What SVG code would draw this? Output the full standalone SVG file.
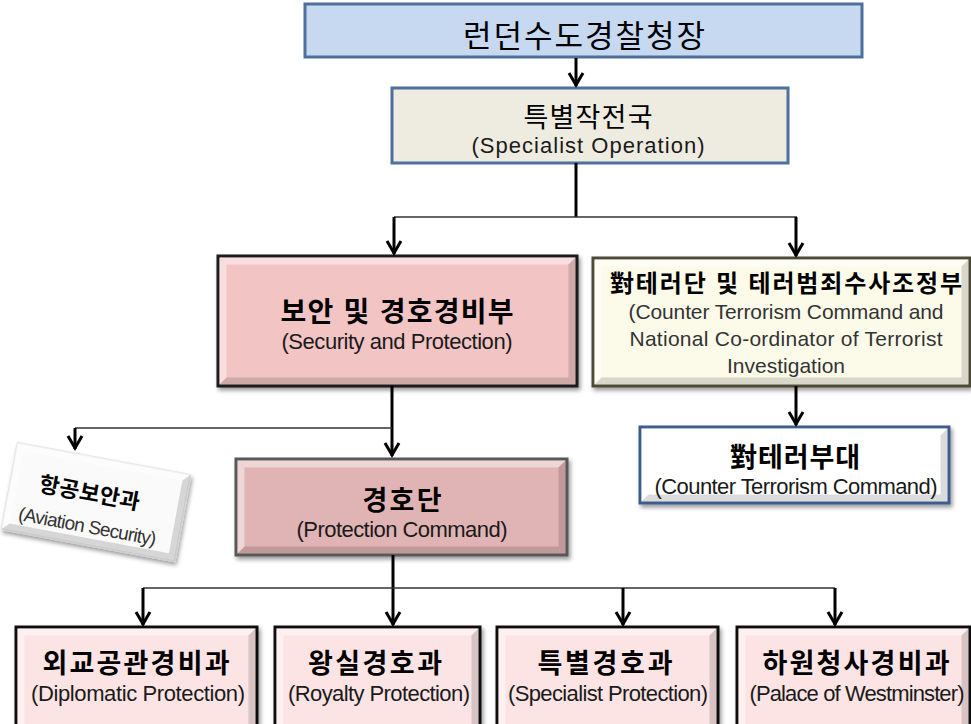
<svg xmlns="http://www.w3.org/2000/svg" width="971" height="724" viewBox="0 0 971 724">
<style>
text{font-family:"Liberation Sans","Noto Sans CJK KR",sans-serif;text-anchor:middle}
.t{font-weight:700;fill:#000}
.s{fill:#1a1a1a}
.bl{fill:#fff;opacity:.45}
.bd{fill:#000;opacity:.14}
.main{stroke:#000;stroke-width:3;fill:none}
.thin{stroke:#333;stroke-width:1.6;fill:none}
.arr{marker-end:url(#ah)}
</style>
<defs>
<marker id="ah" viewBox="-16 -10 20 20" refX="0" refY="0" markerWidth="20" markerHeight="20" markerUnits="userSpaceOnUse" orient="auto">
<path d="M-13,-7 L-1,0 L-13,7" fill="none" stroke="#000" stroke-width="3"/>
</marker>
<filter id="sh" x="-10%" y="-10%" width="130%" height="140%">
<feDropShadow dx="2" dy="3" stdDeviation="2" flood-color="#000" flood-opacity="0.4"/>
</filter>
</defs>

<g id="commissioner">
<rect x="305" y="4" width="557" height="53" fill="#c6d9f1" stroke="#4f6f9c" stroke-width="3"/>
<text x="584" y="47" font-size="31" fill="#000" textLength="242">런던수도경찰청장</text>
</g>

<g id="specialist-operation">
<rect x="392" y="88" width="396" height="75" fill="#eeece1" stroke="#4f6f9c" stroke-width="3"/>
<text x="588" y="127" font-size="27" fill="#000" textLength="129">특별작전국</text>
<text x="588" y="153" font-size="22" class="s" textLength="233">(Specialist Operation)</text>
</g>

<g id="security-protection">
<rect x="218" y="256" width="359" height="130" fill="#f2c4c4" stroke="#1a1a1a" stroke-width="3" filter="url(#sh)"/>
<path class="bl" d="M219.5 257.5h356l-7 7h-342z"/>
<path class="bl" d="M219.5 257.5l7 7v113l-7 7z"/>
<path class="bd" d="M219.5 384.5l7-7h342l7 7z"/>
<path class="bd" d="M575.5 257.5v127l-7-7v-113z"/>
<text x="397" y="322" font-size="28" class="t" textLength="233">보안 및 경호경비부</text>
<text x="397" y="348.5" font-size="22" class="s" textLength="231">(Security and Protection)</text>
</g>

<g id="counter-terrorism">
<rect x="593" y="258" width="377" height="128" fill="#fcfbea" stroke="#4d4a38" stroke-width="3" filter="url(#sh)"/>
<path class="bl" d="M594.5 259.5h374l-7 7h-360z"/>
<path class="bl" d="M594.5 259.5l7 7v111l-7 7z"/>
<path class="bd" d="M594.5 384.5l7-7h360l7 7z"/>
<path class="bd" d="M968.5 259.5v125l-7-7v-111z"/>
<text x="786" y="292" font-size="24" class="t" textLength="352">對테러단 및 테러범죄수사조정부</text>
<text x="786" y="319" font-size="21" fill="#333" textLength="315">(Counter Terrorism Command and</text>
<text x="786" y="346" font-size="21" fill="#333" textLength="313">National Co-ordinator of Terrorist</text>
<text x="786" y="373" font-size="21" fill="#333" textLength="118">Investigation</text>
</g>

<g id="counter-terrorism-command">
<rect x="640" y="427" width="309" height="76" fill="#ffffff" stroke="#3d5d8c" stroke-width="3" filter="url(#sh)"/>
<path class="bl" d="M641.5 428.5h306l-7 7h-292z"/>
<path class="bl" d="M641.5 428.5l7 7v59l-7 7z"/>
<path class="bd" d="M641.5 501.5l7-7h292l7 7z"/>
<path class="bd" d="M947.5 428.5v73l-7-7v-59z"/>
<text x="795" y="467" font-size="27" class="t" textLength="130">對테러부대</text>
<text x="796" y="493.5" font-size="22" class="s" textLength="283">(Counter Terrorism Command)</text>
</g>

<g id="aviation-security" transform="translate(96,502) rotate(10.5)">
<rect x="-88" y="-44" width="176" height="88" fill="#fafafa" stroke="#d6d6d6" stroke-width="1" filter="url(#sh)"/>
<path class="bl" d="M-88 -44h176l-7 7h-162z"/>
<path class="bl" d="M-88 -44l7 7v74l-7 7z"/>
<path class="bd" d="M-88 44l7-7h162l7 7z"/>
<path class="bd" d="M88 -44v88l-7-7v-74z"/>
<text x="-8" y="0" font-size="22" class="t" fill="#222" textLength="102">항공보안과</text>
<text x="-4" y="32" font-size="19" fill="#333" textLength="140">(Aviation Security)</text>
</g>

<g id="protection-command">
<rect x="236" y="459" width="331" height="96" fill="#e0b4b4" stroke="#595959" stroke-width="3" filter="url(#sh)"/>
<path class="bl" d="M237.5 460.5h328l-7 7h-314z"/>
<path class="bl" d="M237.5 460.5l7 7v79l-7 7z"/>
<path class="bd" d="M237.5 553.5l7-7h314l7 7z"/>
<path class="bd" d="M565.5 460.5v93l-7-7v-79z"/>
<text x="402" y="510" font-size="27" class="t" textLength="79">경호단</text>
<text x="402" y="536.5" font-size="22" class="s" textLength="211">(Protection Command)</text>
</g>

<g id="diplomatic-protection">
<rect x="16" y="627" width="241" height="104" fill="#fce4e4" stroke="#111" stroke-width="3" filter="url(#sh)"/>
<path class="bl" d="M17.5 628.5h238l-7 7h-224z"/>
<path class="bl" d="M17.5 628.5l7 7v95h-7z"/>
<path class="bd" d="M255.5 628.5v102h-7v-95z"/>
<text x="136" y="673" font-size="27" class="t" textLength="187">외교공관경비과</text>
<text x="138" y="701" font-size="22" class="s" textLength="214">(Diplomatic Protection)</text>
</g>

<g id="royalty-protection">
<rect x="275" y="627" width="205" height="104" fill="#fce4e4" stroke="#111" stroke-width="3" filter="url(#sh)"/>
<path class="bl" d="M276.5 628.5h202l-7 7h-188z"/>
<path class="bl" d="M276.5 628.5l7 7v95h-7z"/>
<path class="bd" d="M478.5 628.5v102h-7v-95z"/>
<text x="375" y="673" font-size="27" class="t" textLength="134">왕실경호과</text>
<text x="379" y="701" font-size="22" class="s" textLength="182">(Royalty Protection)</text>
</g>

<g id="specialist-protection">
<rect x="497" y="627" width="221" height="104" fill="#fce4e4" stroke="#111" stroke-width="3" filter="url(#sh)"/>
<path class="bl" d="M498.5 628.5h218l-7 7h-204z"/>
<path class="bl" d="M498.5 628.5l7 7v95h-7z"/>
<path class="bd" d="M716.5 628.5v102h-7v-95z"/>
<text x="605" y="673" font-size="27" class="t" textLength="135">특별경호과</text>
<text x="608" y="701" font-size="22" class="s" textLength="200">(Specialist Protection)</text>
</g>

<g id="palace-of-westminster">
<rect x="737" y="627" width="233" height="104" fill="#fce4e4" stroke="#111" stroke-width="3" filter="url(#sh)"/>
<path class="bl" d="M738.5 628.5h230l-7 7h-216z"/>
<path class="bl" d="M738.5 628.5l7 7v95h-7z"/>
<path class="bd" d="M968.5 628.5v102h-7v-95z"/>
<text x="856" y="673" font-size="27" class="t" textLength="187">하원청사경비과</text>
<text x="857" y="701" font-size="22" class="s" textLength="215">(Palace of Westminster)</text>
</g>

<g id="connectors">
<path class="main arr" d="M576 58V86"/>
<path class="main" d="M576 163V217"/>
<path class="thin" d="M394 217H797"/>
<path class="main arr" d="M394 217V254"/>
<path class="main arr" d="M796 217V256"/>
<path class="main arr" d="M392 386V456"/>
<path class="thin" d="M75 428H392"/>
<path class="main arr" d="M75 428V449"/>
<path class="main arr" d="M796 386V425"/>
<path class="main arr" d="M393 555V625"/>
<path class="thin" d="M143 588H835"/>
<path class="main arr" d="M143 588V625"/>
<path class="main arr" d="M623 588V625"/>
<path class="main arr" d="M835 588V625"/>
</g>
</svg>
